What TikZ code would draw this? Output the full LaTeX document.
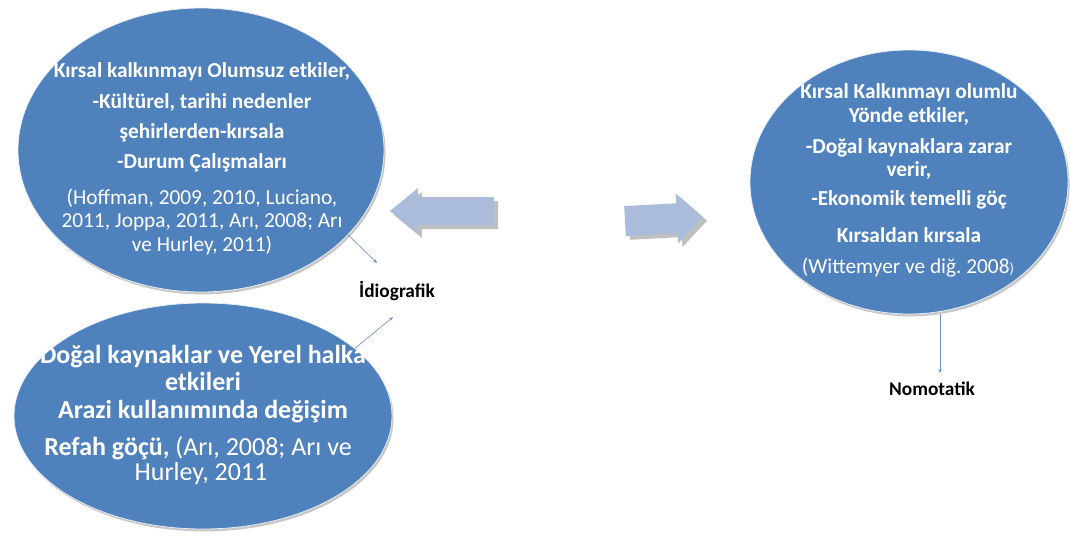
\documentclass[tikz,border=0pt]{standalone}
\usepackage{fontspec}
\setmainfont{Carlito}
\usetikzlibrary{shapes.geometric,shadows,arrows.meta}
\definecolor{ellblue}{HTML}{4F81BD}
\definecolor{arrblue}{HTML}{AABCDA}
\tikzset{
  bubble/.style={ellipse, fill=ellblue, draw=white!85!ellblue, line width=0.6pt, inner sep=0pt,
    drop shadow={shadow xshift=1.2pt, shadow yshift=-1.8pt, fill=black, opacity=0.22}},
  tl/.style={text=white, font=\fontsize{16}{19}\selectfont\bfseries, inner sep=0pt, anchor=center},
  tlr/.style={text=white, font=\fontsize{16}{19}\selectfont, inner sep=0pt, anchor=center},
  bl/.style={text=white, font=\fontsize{19.5}{23}\selectfont\bfseries, inner sep=0pt, anchor=center},
  blr/.style={text=white, font=\fontsize{19.5}{23}\selectfont, inner sep=0pt, anchor=center},
  rl/.style={text=white, font=\fontsize{16}{19}\selectfont\bfseries, inner sep=0pt, anchor=center},
  rlr/.style={text=white, font=\fontsize{16}{19}\selectfont, inner sep=0pt, anchor=center},
  lab/.style={text=black, font=\fontsize{14.5}{17}\selectfont\bfseries, inner sep=0pt, anchor=center},
  conn/.style={draw=ellblue!85, line width=0.5pt, -{Stealth[length=3pt,width=2.5pt]}},
  blockarrow/.style={fill=arrblue},
  blockshadow/.style={fill=black, opacity=0.25}
}
\begin{document}
\begin{tikzpicture}[x=0.75pt,y=-0.75pt]
\useasboundingbox (0,0) rectangle (1070,536);
% ellipses
\node[bubble, minimum width=274.5pt, minimum height=213pt] (e1) at (201,150) {};
\node[bubble, minimum width=283.5pt, minimum height=169.5pt] (e2) at (203,416) {};
\node[bubble, minimum width=238.5pt, minimum height=198pt] (e3) at (909,182) {};
% top ellipse text
\node[tl] (t1) at (202,72) {Kırsal kalkınmayı Olumsuz etkiler,};
\node[tl] (t2) at (202,102) {-Kültürel, tarihi nedenler};
\node[tl] (t3) at (202,133) {şehirlerden-kırsala};
\node[tl] (t4) at (202,163) {-Durum Çalışmaları};
\node[tlr] (t5) at (202,198) {(Hoffman, 2009, 2010, Luciano,};
\node[tlr] (t6) at (202,222) {2011, Joppa, 2011, Arı, 2008; Arı};
\node[tlr] (t7) at (202,245) {ve Hurley, 2011)};
% bottom ellipse text
\node[bl] (b1) at (203,357) {Doğal kaynaklar ve Yerel halka};
\node[bl] (b2) at (203,381) {etkileri};
\node[bl] (b3) at (203,412) {Arazi kullanımında değişim};
\node[bl] (b4) at (198,448) {Refah göçü, \mdseries(Arı, 2008; Arı ve};
\node[blr] (b5) at (201,474) {Hurley, 2011};
% right ellipse text
\node[rl] (r1) at (909,93) {Kırsal Kalkınmayı olumlu};
\node[rl] (r2) at (909,116) {Yönde etkiler,};
\node[rl] (r3) at (909,148) {-Doğal kaynaklara zarar};
\node[rl] (r4) at (909,170) {verir,};
\node[rl] (r5) at (909,200) {-Ekonomik temelli göç};
\node[rl] (r6) at (909,235) {Kırsaldan kırsala};
\node[rlr] (r7) at (908,268) {(Wittemyer ve diğ.\ 2008{\fontsize{11}{13}\selectfont)}};
% labels
\node[lab] (idio) at (397,291) {İdiografik};
\node[lab] (nomo) at (932,389) {Nomotatik};
% connector ends
\coordinate (c1) at (377,263);
\coordinate (c2) at (393,317);
\coordinate (c3) at (940,373);
\draw[conn] (e1.-30) -- (c1);
\draw[conn] (e2.24) -- (c2);
\draw[conn] (e3.south -| c3) -- (c3);
% block arrows
\fill[blockshadow] (498,201) -- (422,201) -- (422,192) -- (394,215) -- (422,238) -- (422,229) -- (498,229) -- cycle;
\fill[blockarrow] (494,197) -- (418,197) -- (418,188) -- (390,211) -- (418,234) -- (418,225) -- (494,225) -- cycle;
\begin{scope}[rotate around={3:(625,221)}]
\fill[blockshadow] (629,210) -- (681,210) -- (681,200) -- (707,225) -- (681,250) -- (681,240) -- (629,240) -- cycle;
\fill[blockarrow] (625,206) -- (677,206) -- (677,196) -- (703,221) -- (677,246) -- (677,236) -- (625,236) -- cycle;
\end{scope}
\end{tikzpicture}
\end{document}
